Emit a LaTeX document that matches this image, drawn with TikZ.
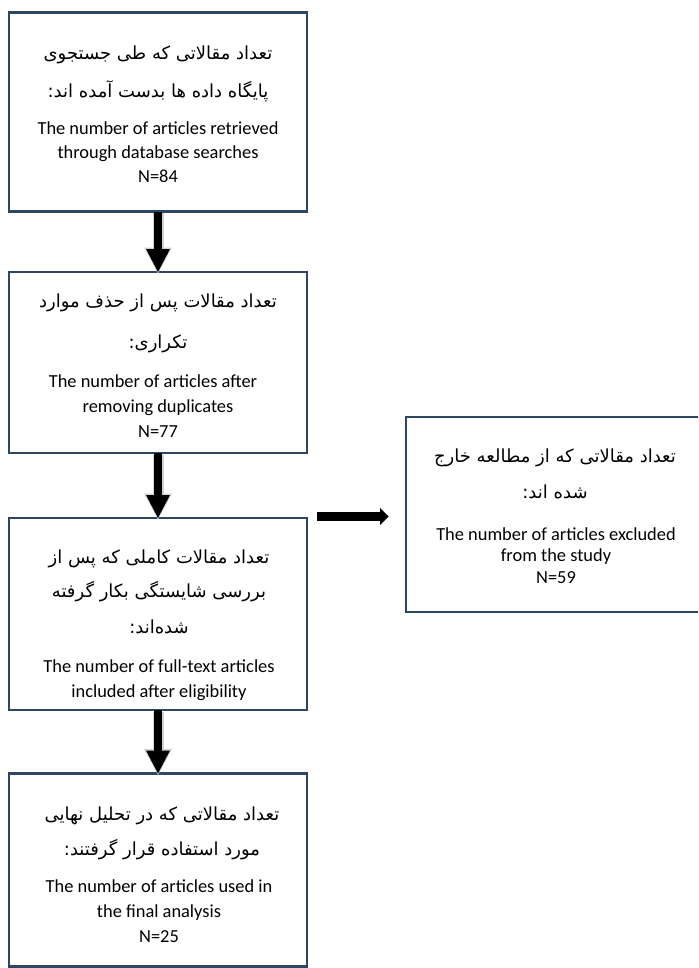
\documentclass[tikz,border=0pt]{standalone}
\usepackage{fontspec}
\setmainfont{Carlito}
\newfontfamily\arabicfont[Script=Arabic]{DejaVu Sans}
\TeXXeTstate=1
\usetikzlibrary{arrows.meta}
\definecolor{boxline}{RGB}{44,70,100}
\tikzset{
  box/.style={draw=boxline, line width=2.5pt, inner sep=0pt, outer sep=0pt},
  en/.style={font=\fontsize{18.4}{22}\selectfont, anchor=base, inner sep=0pt},
  fa/.style={font=\arabicfont\fontsize{18}{24}\selectfont, anchor=base, inner sep=0pt},
  downarrow/.style={line width=8.4pt, -{Triangle[width=24pt,length=23pt,line width=0pt]}},
  glow/.style={draw=black!18, line width=11pt, line cap=butt, -{Triangle[width=28pt,length=26pt,line width=0pt]}},
  sidearrow/.style={line width=8.4pt, -{Triangle[width=17pt,length=8.3pt,line width=0pt]}},
}
\begin{document}
\begin{tikzpicture}[x=1pt,y=-1pt]
\useasboundingbox (0,0) rectangle (698,968);
\clip (0,0) rectangle (698,968);
% boxes
\node[box, minimum width=298pt, minimum height=199.4pt] (b1) at (158,112) {};
\node[box, minimum width=298pt, minimum height=181pt] (b2) at (158,362.5) {};
\node[box, minimum width=298pt, minimum height=192pt] (b3) at (158,614) {};
\node[box, minimum width=298pt, minimum height=193pt] (b4) at (158,870) {};
\node[box, minimum width=308pt, minimum height=195pt] (b5) at (560,514.5) {};
% box 1 text
\node[fa] (f11) at (158,60) {\beginR تعداد مقالاتی که طی جستجوی\endR};
\node[fa] (f12) at (158,98) {\beginR پایگاه داده ها بدست آمده اند:\endR};
\node[en] (e11) at (158,135) {The number of articles retrieved};
\node[en] (e12) at (158,159) {through database searches};
\node[en] (e13) at (158,183) {N=84};
% box 2 text
\node[fa] (f21) at (158,307) {\beginR تعداد مقالات پس از حذف موارد\endR};
\node[fa] (f22) at (158,348) {\beginR تکراری:\endR};
\node[en] (e21) at (153,387) {The number of articles after};
\node[en] (e22) at (158,412) {removing duplicates};
\node[en] (e23) at (158,437) {N=77};
% box 3 text
\node[fa] (f31) at (159,563) {\beginR تعداد مقالات کاملی که پس از\endR};
\node[fa] (f32) at (159,597) {\beginR بررسی شایستگی بکار گرفته\endR};
\node[fa] (f33) at (159,633) {\beginR شده‌اند:\endR};
\node[en] (e31) at (159,672) {The number of full-text articles};
\node[en] (e32) at (159,697) {included after eligibility};
% box 4 text
\node[fa] (f41) at (162,820) {\beginR تعداد مقالاتی که در تحلیل نهایی\endR};
\node[fa] (f42) at (162,855) {\beginR مورد استفاده قرار گرفتند:\endR};
\node[en] (e41) at (159,892) {The number of articles used in};
\node[en] (e42) at (159,917) {the final analysis};
\node[en] (e43) at (159,942) {N=25};
% right box text
\node[fa] (f51) at (555,462) {\beginR تعداد مقالاتی که از مطالعه خارج\endR};
\node[fa] (f52) at (555,498) {\beginR شده اند:\endR};
\node[en] (e51) at (556,540) {The number of articles excluded};
\node[en] (e52) at (556,561.5) {from the study};
\node[en] (e53) at (556,583) {N=59};
% arrows (soft halo, then solid arrow)
\draw[glow] ([yshift=-1.5pt]b1.south) -- ([yshift=-1.5pt]b2.north);
\draw[glow] ([yshift=-1.5pt]b2.south) -- ([yshift=-1.5pt]b3.north);
\draw[glow] ([yshift=-1.5pt]b3.south) -- ([yshift=-1.5pt]b4.north);
\draw[downarrow] (b1.south) -- (b2.north);
\draw[downarrow] (b2.south) -- (b3.north);
\draw[downarrow] (b3.south) -- (b4.north);
\coordinate (ra1) at (317,516.5);
\coordinate (ra2) at (388.5,516.5);
\draw[sidearrow] (ra1) -- (ra2);
\end{tikzpicture}
\end{document}
